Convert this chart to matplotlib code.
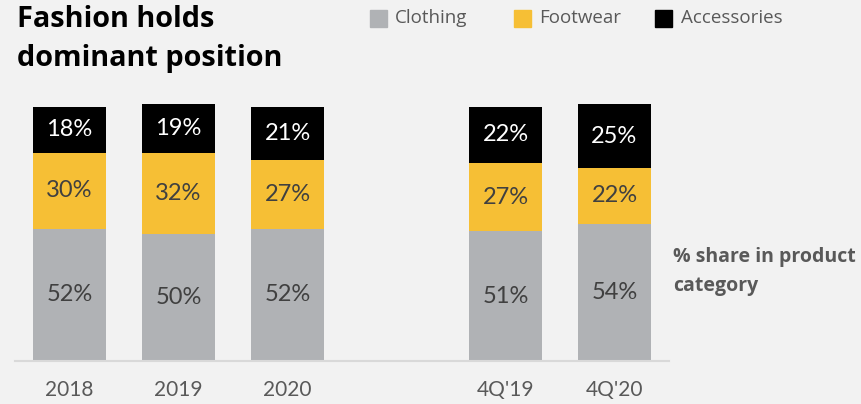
import numpy as np
import matplotlib.pyplot as plt

# datos
periods = ['2018', '2019', '2020', "4Q'19", "4Q'20"]
slots = [0, 1, 2, 4, 5]
clothing = [52, 50, 52, 51, 54]
footwear = [30, 32, 27, 27, 22]
accessories = [18, 19, 21, 22, 25]

bg = '#f2f2f2'
colors = {'Clothing': '#b0b2b5', 'Footwear': '#f6bf35', 'Accessories': '#000000'}
txt_colors = {'Clothing': '#404040', 'Footwear': '#404040', 'Accessories': '#ffffff'}

fig = plt.figure(figsize=(8.61, 4.04), dpi=100, facecolor=bg)
ax = fig.add_axes([15 / 861, 43 / 404, 654 / 861, 266.7 / 404], facecolor=bg)

x = np.array(slots)
bottom = np.zeros(len(x))
for name, vals in [('Clothing', clothing), ('Footwear', footwear), ('Accessories', accessories)]:
    vals = np.array(vals)
    ax.bar(x, vals, bottom=bottom, width=0.67, color=colors[name], zorder=2)
    for xi, b, v in zip(x, bottom, vals):
        ax.text(xi, b + v / 2, f'{v}%', ha='center', va='center', fontsize=17,
                family='Lato', color=txt_colors[name], zorder=3)
    bottom += vals

ax.set_xlim(-0.5, 5.5)
ax.set_ylim(0, 105)
ax.set_yticks([])
ax.set_xticks(slots)
ax.set_xticklabels(periods, family='Lato', fontsize=15, color='#595959')
ax.tick_params(axis='x', length=0, pad=14)
for s in ['top', 'left', 'right']:
    ax.spines[s].set_visible(False)
ax.spines['bottom'].set_color('#d9d9d9')
ax.spines['bottom'].set_linewidth(1.5)

# titulo
fig.text(17 / 861, 1 - 27 / 404, 'Fashion holds', family='Open Sans', fontweight='bold',
         fontsize=20.8, color='#000000', va='baseline')
fig.text(17 / 861, 1 - 66 / 404, 'dominant position', family='Open Sans', fontweight='bold',
         fontsize=20.8, color='#000000', va='baseline')

# leyenda
legend_items = [('Clothing', 370, 395), ('Footwear', 514, 539), ('Accessories', 655, 681)]
for name, sx, tx in legend_items:
    fig.patches.append(plt.Rectangle((sx / 861, 1 - 27 / 404), 17 / 861, 17 / 404,
                                     transform=fig.transFigure, color=colors[name]))
    fig.text(tx / 861, 1 - 23 / 404, name, family='Open Sans', fontsize=13.5,
             color='#595959', va='baseline')

# nota lateral
fig.text(673 / 861, 1 - 262 / 404, '% share in product', family='Open Sans',
         fontweight='bold', fontsize=14, color='#595959', va='baseline')
fig.text(673 / 861, 1 - 291 / 404, 'category', family='Open Sans',
         fontweight='bold', fontsize=14, color='#595959', va='baseline')

fig.savefig('out.png', dpi=100, facecolor=bg)
